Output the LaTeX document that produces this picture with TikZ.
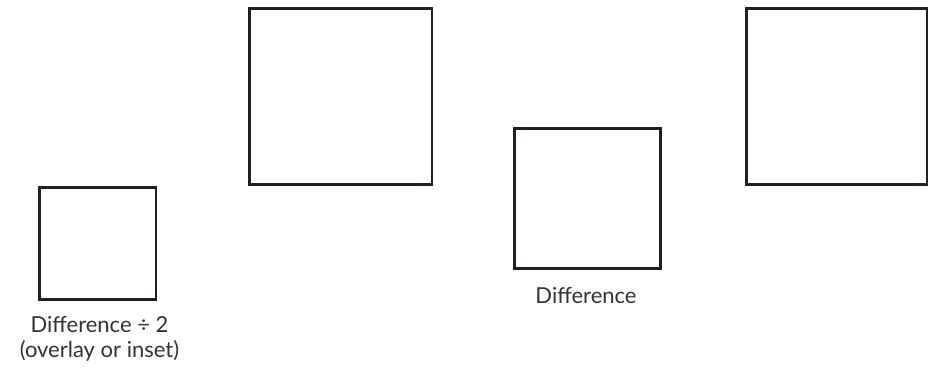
\documentclass[tikz,border=0pt]{standalone}
\usepackage{fontspec}
\setmainfont{Lato}
\usetikzlibrary{positioning}
\definecolor{fg}{RGB}{35,31,32}
\definecolor{txt}{RGB}{51,51,51}
\tikzset{
  every picture/.style={fg, line width=2.7pt, line join=miter},
  every node/.style={font=\fontsize{22}{25}\selectfont},
  % Quadrate
  sq/.style={draw=fg, rectangle, inner sep=0pt, minimum width=#1},
  % Beschriftung
  lbl/.style={txt, align=center, inner sep=0pt, anchor=base},
}
\begin{document}
\begin{tikzpicture}[x=1pt, y=-1pt]
  \useasboundingbox (0,0) rectangle (932,370);
  % Quadrate, Mittelpunkte in Pixeln
  \node (half)  [sq=116.6pt, minimum height=112pt]   at (97.8,243.3) {};
  \node (left)  [sq=182.3pt, minimum height=175.7pt] at (340.8,96.5) {};
  \node (diff)  [sq=145.7pt, minimum height=140pt]   at (587.5,198.7) {};
  \node (right) [sq=180.6pt, minimum height=175.7pt] at (836.7,96.5) {};
  % Beschriftungen (base = letzte Zeile)
  \node (halflbl) [lbl] at (99.5,357) {Difference ÷ 2\\(overlay or inset)};
  \node (difflbl) [lbl] at (586,303) {Difference};
\end{tikzpicture}
\end{document}
